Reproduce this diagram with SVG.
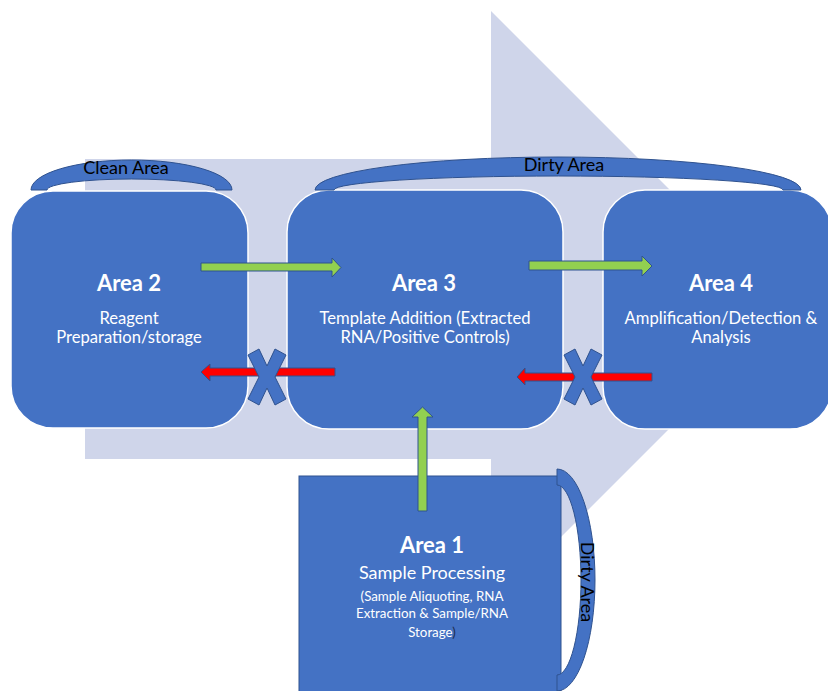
<svg xmlns="http://www.w3.org/2000/svg" width="828" height="691" viewBox="0 0 828 691">
<style>
.box{fill:#4472C4;stroke:#FFFFFF;stroke-width:1.5}
.brk{fill:#4472C4;stroke:#2F528F;stroke-width:1}
.t{font-family:Lato,"Liberation Sans",sans-serif;fill:#FFFFFF;text-anchor:middle}
.h{font-size:22px;font-weight:bold}
.b{font-size:16.6px}
.s{font-size:13.3px}
.lbl{font-family:Lato,"Liberation Sans",sans-serif;font-size:18px;fill:#000000;text-anchor:middle}
.ga{fill:#92D050;stroke:#2F528F;stroke-width:1}
.ra{fill:#FF0000;stroke:#2F528F;stroke-width:1}
.x{fill:#4472C4;stroke:#2F528F;stroke-width:1}
</style>
<defs>
<polygon id="xmark" points="-19,-22 -8,-28 0,-11 8,-28 19,-22 8,0 19,22 8,28 0,11 -8,28 -19,22 -8,0"/>
</defs>
<g id="flow-arrow">
<polygon points="85,159 491,159 491,11 789,309 491,607 491,459 85,459" fill="#CFD5EA"/>
</g>
<g id="area2">
<rect class="box" x="11" y="191" width="237" height="237" rx="42" ry="42"/>
<text class="t h" x="129" y="291">Area 2</text>
<text class="t b" x="129" y="324">Reagent</text>
<text class="t b" x="129" y="343">Preparation/storage</text>
</g>
<g id="area3">
<rect class="box" x="287" y="190" width="276" height="239" rx="42" ry="42"/>
<text class="t h" x="424" y="291">Area 3</text>
<text class="t b" x="425" y="324">Template Addition (Extracted</text>
<text class="t b" x="425" y="343">RNA/Positive Controls)</text>
</g>
<g id="area4">
<rect class="box" x="603" y="190" width="229" height="239" rx="42" ry="42"/>
<text class="t h" x="721" y="291">Area 4</text>
<text class="t b" x="721" y="324">Amplification/Detection &amp;</text>
<text class="t b" x="721" y="343">Analysis</text>
</g>
<g id="area1">
<rect x="299" y="476" width="262" height="230" fill="#4472C4" stroke="#2F528F" stroke-width="1"/>
<text class="t h" x="432" y="553">Area 1</text>
<text class="t" x="432" y="579" font-size="18px">Sample Processing</text>
<text class="t s" x="432" y="601">(Sample Aliquoting, RNA</text>
<text class="t s" x="432" y="618">Extraction &amp; Sample/RNA</text>
<text class="t s" x="432" y="637">Storage<tspan fill="#1F2D4D">)</tspan></text>
</g>
<g id="clean-area">
<path class="brk" d="M31,190 A100.5,30 0 0 1 232,190 L216,190 A84.5,11 0 0 0 47,190 Z"/>
<text class="lbl" x="126" y="174">Clean Area</text>
</g>
<g id="dirty-area-top">
<path class="brk" d="M315,190 A243,33 0 0 1 801,190 L783,190 A224.5,14 0 0 0 334,190 Z"/>
<text class="lbl" x="564" y="171">Dirty Area</text>
</g>
<g id="dirty-area-side">
<path class="brk" d="M557,469 A38,111 0 0 1 557,691 L557,675 A24,95 0 0 0 557,485 Z"/>
<text class="lbl" transform="translate(587,582) rotate(90)" x="0" y="6">Dirty Area</text>
</g>
<g id="connectors">
<polygon class="ga" points="201,263 332,263 332,258 341,267.5 332,277 332,271 201,271"/>
<polygon class="ga" points="529,261 642,261 642,256 652,266 642,276 642,270 529,270"/>
<polygon class="ga" points="418,511 418,417 412,417 422.5,407 433,417 427,417 427,511"/>
<polygon class="ra" points="335,368 210,368 210,364 201,372 210,381 210,376 335,376"/>
<polygon class="ra" points="652,373 525,373 525,368 517,377 525,385 525,381 652,381"/>
<use href="#xmark" class="x" x="267" y="377"/>
<use href="#xmark" class="x" x="583" y="377"/>
</g>
</svg>
